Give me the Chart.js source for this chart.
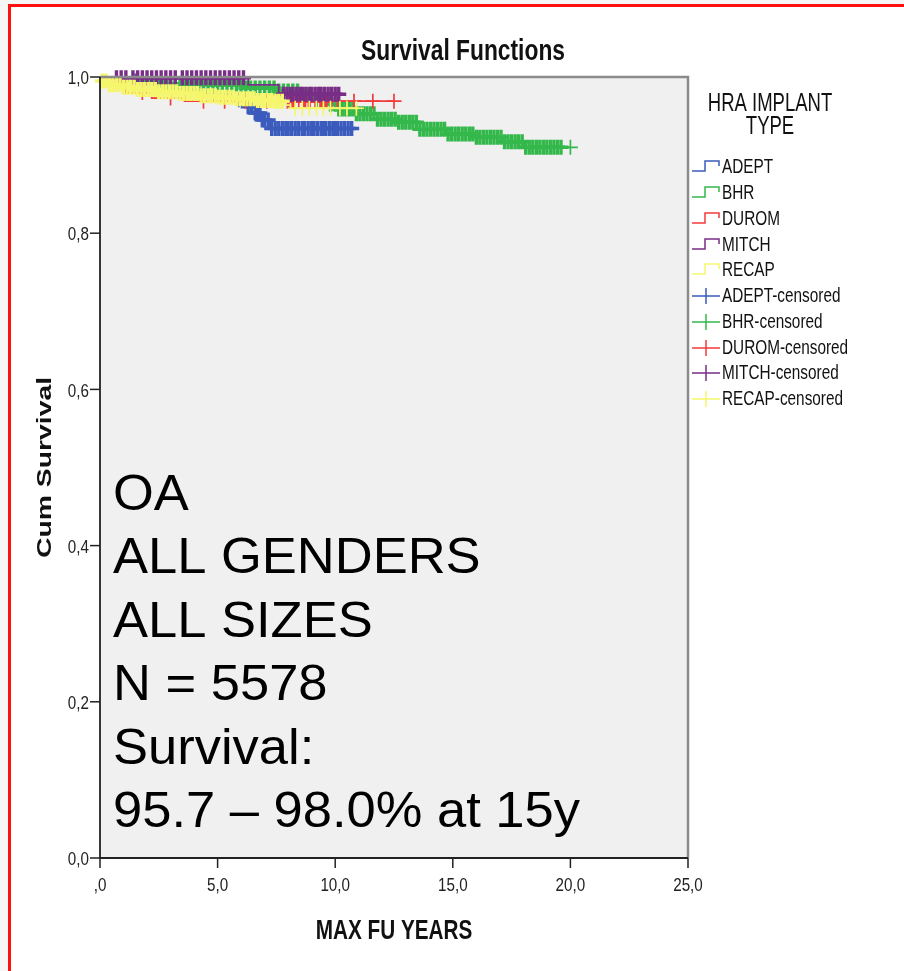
<!DOCTYPE html>
<html>
<head>
<meta charset="utf-8">
<title>Survival Functions</title>
<script src="https://cdn.jsdelivr.net/npm/chart.js@4"></script>
<style>
  html, body { margin: 0; padding: 0; background: #f6f6f6; overflow: hidden; }
  #frame { position: absolute; left: 8px; top: 4px; width: 1000px; height: 1000px;
           border-top: 3px solid #ff1010; border-left: 3px solid #ff1010; background: #fff; }
  #myChart { position: absolute; left: 0; top: 0; }
</style>
</head>
<body>
<div id="frame"></div>
<canvas id="myChart" width="904" height="971"></canvas>
<script>
// Kaplan-Meier steps per implant (event time in years, cumulative survival)
const adeptT = [0, 0.8, 1.9, 3.2, 4.5, 5.6, 6.2, 6.6, 6.9, 7.2, 10.8];
const adeptS = [1, 0.995, 0.99, 0.984, 0.978, 0.971, 0.962, 0.954, 0.945, 0.934, 0.934];
const bhrT = [0, 1.2, 2.4, 4.5, 6.1, 7.6, 8.5, 9.2, 9.8, 10.1, 10.8, 11.8, 12.6, 13.6, 14.75, 16.0, 17.1, 18.0, 20.0];
const bhrS = [1, 0.995, 0.991, 0.99, 0.986, 0.982, 0.977, 0.971, 0.965, 0.959, 0.953, 0.946, 0.942, 0.933, 0.927, 0.923, 0.917, 0.910, 0.910];
const duromT = [0, 0.8, 1.1, 2.2, 3.6, 12.5];
const duromS = [1, 0.988, 0.98, 0.973, 0.969, 0.969];
const mitchT = [0, 0.4, 6.3, 7.6, 10.2];
const mitchS = [1, 0.999, 0.99, 0.978, 0.978];
const recapT = [0, 0.1, 0.4, 0.9, 1.6, 2.4, 3.3, 4.2, 5.0, 5.8, 6.6, 7.4, 7.9, 8.1, 11.0];
const recapS = [1, 0.995, 0.99, 0.987, 0.984, 0.981, 0.979, 0.976, 0.974, 0.972, 0.97, 0.969, 0.964, 0.96, 0.96];

// censored follow-up times (years)
const adeptCens = [1.5, 2.5, 3.6, 4.8, 5.9, 6.3, 6.45, 6.6, 6.7, 6.8, 6.9, 7.0, 7.15, 7.3, 7.45, 7.6, 7.75, 7.9, 8.0, 8.15, 8.3, 8.45, 8.6,
  8.7, 8.85, 9.0, 9.1, 9.25, 9.4, 9.5, 9.6, 9.75, 9.9, 10.0, 10.1, 10.25, 10.4, 10.55, 10.7];
const bhrCens = [2.4, 2.55, 2.7, 2.85, 3.0, 3.2, 3.4, 3.6, 3.8, 4.0, 4.2, 4.4, 4.6, 4.8, 5.0, 5.2, 5.4, 5.6, 5.8, 6.0, 6.2,
  6.4, 6.6, 6.8, 7.0, 7.2, 7.4, 7.6, 7.8, 8.0, 8.2, 8.4, 8.6, 8.8, 9.0, 9.2, 9.4, 9.6, 9.8,
  10.0, 10.15, 10.3, 10.45, 10.6, 10.75, 10.9, 11.05, 11.2, 11.35, 11.5, 11.65, 11.8, 11.95, 12.1, 12.25, 12.4,
  12.55, 12.7, 12.85, 13.0, 13.15, 13.3, 13.45, 13.6, 13.75, 13.9, 14.05, 14.2, 14.35, 14.5, 14.65, 14.8, 14.95,
  15.1, 15.25, 15.4, 15.55, 15.7, 15.85, 16.0, 16.15, 16.3, 16.45, 16.6, 16.75, 16.9, 17.05, 17.2, 17.35, 17.5,
  17.65, 17.8, 17.95, 18.1, 18.25, 18.4, 18.55, 18.7, 18.85, 19.0, 19.15, 19.3, 19.45, 19.6, 20.0];
const duromCens = [1.8, 3.0, 4.4, 5.3, 6.2, 7.1, 8.0, 8.2, 8.45, 8.7, 8.9, 9.15, 9.4, 9.6, 9.85, 10.1, 10.8, 11.6, 12.5];
const mitchCens = [0.7, 0.9, 1.1, 1.4, 1.6, 1.8, 2.0, 2.2, 2.4, 2.6, 2.8, 3.0, 3.2, 3.5, 3.7, 3.9, 4.1, 4.3, 4.5, 4.7,
  4.9, 5.1, 5.3, 5.5, 5.7, 5.9, 6.1,
  7.8, 7.95, 8.1, 8.2, 8.35, 8.5, 8.6, 8.75, 8.9, 9.0, 9.15, 9.3, 9.4, 9.55, 9.7, 9.85, 10.0, 10.15];
const recapCens = [0.1, 0.25, 0.4, 0.55, 0.7, 0.85, 1.0, 1.15, 1.3, 1.45, 1.6, 1.75, 1.9, 2.05, 2.2, 2.35, 2.5,
  2.65, 2.8, 2.95, 3.1, 3.25, 3.4, 3.55, 3.7, 3.85, 4.0, 4.15, 4.3, 4.45, 4.6, 4.75, 4.9, 5.05, 5.2, 5.35, 5.5,
  5.65, 5.8, 5.95, 6.1, 6.25, 6.4, 6.55, 6.7, 6.85, 7.0, 7.15, 7.3, 7.45, 7.6, 7.75,
  8.3, 8.6, 8.9, 9.2, 9.5, 9.8, 10.2, 10.5, 10.9];

const xTicks = [0, 5, 10, 15, 20, 25];
const xTickLabels = [',0', '5,0', '10,0', '15,0', '20,0', '25,0'];
const yTicks = [0, 0.2, 0.4, 0.6, 0.8, 1.0];
const yTickLabels = ['0,0', '0,2', '0,4', '0,6', '0,8', '1,0'];

const groups = ['ADEPT', 'BHR', 'DUROM', 'MITCH', 'RECAP'];
const colors = ['#3b5bbd', '#35b84b', '#f23b3b', '#782d86', '#f6f66c'];
const infoLines = ['OA', 'ALL GENDERS', 'ALL SIZES', 'N = 5578', 'Survival:', '95.7 \u2013 98.0% at 15y'];

function stepPoints(T, S) {
  return T.map((t, i) => ({ x: t, y: S[i] }));
}

// survival value of the step curve at time c
function survAt(T, S, c) {
  let v = S[0];
  for (let i = 0; i < T.length; i++) {
    if (T[i] <= c) v = S[i];
  }
  return v;
}

function censPoints(T, S, C) {
  return C.map(c => ({ x: c, y: survAt(T, S, c) }));
}

// crowded marks merge into a thick band, lone marks stay thin
function crossWidth(context) {
  const d = context.dataset.data;
  const i = context.dataIndex;
  let gap = 99;
  if (i > 0) gap = Math.min(gap, d[i].x - d[i - 1].x);
  if (i < d.length - 1) gap = Math.min(gap, d[i + 1].x - d[i].x);
  return gap < 0.25 ? 3.4 : 1.7;
}

const curves = [[adeptT, adeptS, adeptCens], [bhrT, bhrS, bhrCens], [duromT, duromS, duromCens],
  [mitchT, mitchS, mitchCens], [recapT, recapS, recapCens]];

// draw order: RECAP on top, ADEPT at the bottom
const drawOrder = [10, 8, 6, 4, 2];

let datasets = [];
curves.forEach((c, i) => {
  datasets.push({
    label: groups[i],
    data: stepPoints(c[0], c[1]),
    stepped: 'before',
    borderColor: colors[i],
    borderWidth: 1.8,
    pointRadius: 0,
    fill: false,
    order: drawOrder[i]
  });
  datasets.push({
    label: groups[i] + '-censored',
    data: censPoints(c[0], c[1], c[2]),
    showLine: false,
    pointStyle: 'cross',
    pointRadius: 7.5,
    pointBorderWidth: crossWidth,
    borderColor: colors[i],
    backgroundColor: colors[i],
    clip: false,
    order: drawOrder[i] - 1
  });
});

function txt(ctx, s, x, y, size, bold, sx, align) {
  ctx.save();
  ctx.translate(x, y);
  ctx.scale(sx, 1);
  ctx.font = (bold ? 'bold ' : '') + size + 'px "Liberation Sans", Arial, sans-serif';
  ctx.textAlign = align;
  ctx.textBaseline = 'middle';
  ctx.fillText(s, 0, 0);
  ctx.restore();
}

const plotBg = {
  id: 'plotBg',
  beforeDatasetsDraw(chart) {
    const a = chart.chartArea;
    const ctx = chart.ctx;
    ctx.save();
    ctx.fillStyle = '#f0f0f0';
    ctx.fillRect(a.left, a.top, a.right - a.left, a.bottom - a.top);
    ctx.restore();
  }
};

const decorations = {
  id: 'decorations',
  afterDraw(chart) {
    const ctx = chart.ctx;
    const a = chart.chartArea;
    const xs = chart.scales.x;
    const ys = chart.scales.y;
    ctx.save();

    // frame: top and right grey, left and bottom dark
    ctx.strokeStyle = '#8a8a8a';
    ctx.lineWidth = 2.5;
    ctx.beginPath();
    ctx.moveTo(a.left, a.top);
    ctx.lineTo(a.right, a.top);
    ctx.lineTo(a.right, a.bottom);
    ctx.stroke();
    ctx.strokeStyle = '#222';
    ctx.lineWidth = 1.8;
    ctx.beginPath();
    ctx.moveTo(a.left, a.top);
    ctx.lineTo(a.left, a.bottom);
    ctx.lineTo(a.right, a.bottom);
    ctx.stroke();

    // ticks
    ctx.lineWidth = 1.5;
    ctx.fillStyle = '#222';
    xTicks.forEach((v, i) => {
      const px = xs.getPixelForValue(v);
      ctx.beginPath();
      ctx.moveTo(px, a.bottom);
      ctx.lineTo(px, a.bottom + 10);
      ctx.stroke();
      txt(ctx, xTickLabels[i], px, a.bottom + 28, 19, false, 0.8, 'center');
    });
    yTicks.forEach((v, i) => {
      const py = ys.getPixelForValue(v);
      ctx.beginPath();
      ctx.moveTo(a.left - 10, py);
      ctx.lineTo(a.left, py);
      ctx.stroke();
      txt(ctx, yTickLabels[i], a.left - 11, py + 2, 19, false, 0.8, 'right');
    });

    // titles
    ctx.fillStyle = '#111';
    txt(ctx, 'Survival Functions', 463, 52, 30, true, 0.76, 'center');
    txt(ctx, 'MAX FU YEARS', (a.left + a.right) / 2, 931, 28, true, 0.74, 'center');
    ctx.save();
    ctx.translate(45, (a.top + a.bottom) / 2);
    ctx.rotate(-Math.PI / 2);
    ctx.scale(1.35, 1);
    ctx.font = 'bold 21px "Liberation Sans", Arial, sans-serif';
    ctx.textAlign = 'center';
    ctx.textBaseline = 'middle';
    ctx.fillText('Cum Survival', 0, 0);
    ctx.restore();

    // annotation text
    ctx.fillStyle = '#000';
    ctx.save();
    ctx.font = '50px "Liberation Sans", Arial, sans-serif';
    ctx.textAlign = 'left';
    ctx.textBaseline = 'alphabetic';
    infoLines.forEach((s, i) => {
      ctx.save();
      ctx.translate(113, 510 + i * 63.4);
      ctx.scale(1.05, 1);
      ctx.fillText(s, 0, 0);
      ctx.restore();
    });
    ctx.restore();

    // legend
    ctx.fillStyle = '#111';
    txt(ctx, 'HRA IMPLANT', 770, 104, 25, false, 0.74, 'center');
    txt(ctx, 'TYPE', 770, 127, 25, false, 0.74, 'center');
    const rowY = [167, 193, 219, 245, 270, 296, 322, 348, 373, 399];
    ctx.lineWidth = 1.5;
    groups.forEach((g, i) => {
      const c = rowY[i];
      ctx.strokeStyle = colors[i];
      ctx.beginPath();
      ctx.moveTo(692, c + 4);
      ctx.lineTo(705, c + 4);
      ctx.lineTo(705, c - 6);
      ctx.lineTo(719, c - 6);
      ctx.lineTo(719, c - 1);
      ctx.stroke();
      ctx.fillStyle = '#111';
      txt(ctx, g, 722, c, 21, false, 0.73, 'left');
    });
    groups.forEach((g, i) => {
      const c = rowY[i + 5];
      ctx.strokeStyle = colors[i];
      ctx.beginPath();
      ctx.moveTo(692, c);
      ctx.lineTo(720, c);
      ctx.moveTo(706, c - 8);
      ctx.lineTo(706, c + 8);
      ctx.stroke();
      ctx.fillStyle = '#111';
      txt(ctx, g + '-censored', 722, c, 21, false, 0.73, 'left');
    });
    ctx.restore();
  }
};

const ctx = document.getElementById('myChart').getContext('2d');
const myChart = new Chart(ctx, {
  type: 'line',
  data: { datasets: datasets },
  options: {
    responsive: false,
    animation: false,
    events: [],
    layout: { padding: { left: 100, right: 216, top: 77, bottom: 113 } },
    scales: {
      x: { type: 'linear', min: 0, max: 25, display: false },
      y: { type: 'linear', min: 0, max: 1, display: false }
    },
    plugins: {
      legend: { display: false },
      tooltip: { enabled: false },
      title: { display: false }
    }
  },
  plugins: [plotBg, decorations]
});
</script>
</body>
</html>
